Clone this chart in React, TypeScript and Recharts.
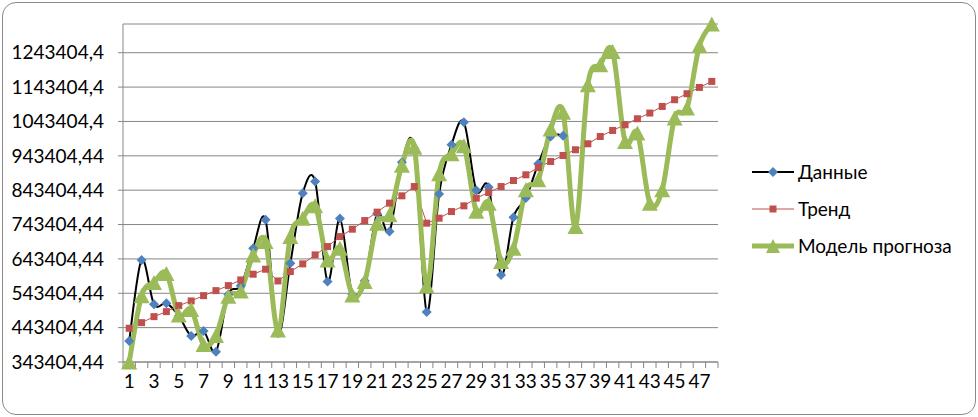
import { LineChart, Line, XAxis, YAxis, CartesianGrid } from "recharts";

document.body.style.margin = "0";

// периоды 1..48
const periods = [
  1, 2, 3, 4, 5, 6, 7, 8, 9, 10, 11, 12, 13, 14, 15, 16, 17, 18, 19, 20, 21, 22, 23, 24,
  25, 26, 27, 28, 29, 30, 31, 32, 33, 34, 35, 36, 37, 38, 39, 40, 41, 42, 43, 44, 45, 46, 47, 48,
];

// фактические данные (только 36 периодов)
const dannye = [
  404600, 640500, 511400, 514400, 478000, 419100, 433700, 373400, 540000, 565000, 674600, 757000,
  427000, 630900, 834800, 868600, 577300, 760800, 540000, 580000, 775000, 723000, 925000, 965000,
  489000, 832000, 975500, 1041000, 843000, 852000, 596800, 764900, 820300, 920200, 999700, 1001700,
  null, null, null, null, null, null, null, null, null, null, null, null,
];

const trend = [
  441600, 457900, 475400, 490000, 507400, 521100, 536500, 551100, 565700, 582300, 598900, 613400,
  579300, 606500, 628900, 655100, 679300, 708400, 729900, 755000, 779500, 805700, 827000, 854000,
  747400, 762000, 781200, 797800, 820300, 836600, 854000, 871500, 888100, 909400, 926900, 944400,
  961000, 978400, 999700, 1017200, 1033800, 1051300, 1067900, 1087100, 1106600, 1124100, 1142400, 1159900,
];

const model = [
  343404.44, 536000, 575000, 601000, 480300, 496000, 394000, 420500, 535000, 550000, 655100, 693800,
  436600, 708400, 762000, 798000, 640500, 674600, 538600, 577300, 747400, 771600, 915800, 968200,
  564800, 891000, 949300, 972600, 781800, 805700, 635600, 674600, 844400, 873600, 1021700, 1070200,
  737500, 1150300, 1208600, 1247300, 985100, 1009600, 805700, 844400, 1053300, 1082400, 1263900, 1327000,
];

const yTicks = [
  343404.44, 443404.44, 543404.44, 643404.44, 743404.44, 843404.44, 943404.44, 1043404.44, 1143404.44,
  1243404.44,
];
const yTickLabels = [
  "343404,44", "443404,44", "543404,44", "643404,44", "743404,44", "843404,44", "943404,44",
  "1043404,4", "1143404,4", "1243404,4",
];
const xLabelTicks = periods.filter((p) => p % 2 === 1);
const xBoundaryTicks = [...periods.map((p) => p - 0.5), periods[periods.length - 1] + 0.5];

const seriesNames = ["Данные", "Тренд", "Модель прогноза"];

const chartData = periods.map((period, i) => ({
  period,
  dannye: dannye[i],
  trend: trend[i],
  model: model[i],
}));

const GRID = "#868686";
const FONT = "Lato, 'Open Sans', sans-serif";

// сглаживание как в Excel (Catmull-Rom)
function excelSmooth(context: any) {
  let pts: [number, number][] = [];
  return {
    areaStart() {},
    areaEnd() {},
    lineStart() {
      pts = [];
    },
    point(x: number, y: number) {
      pts.push([+x, +y]);
    },
    lineEnd() {
      const n = pts.length;
      if (!n) return;
      context.moveTo(pts[0][0], pts[0][1]);
      for (let i = 0; i < n - 1; i++) {
        const p0 = pts[i - 1] || pts[i];
        const p1 = pts[i];
        const p2 = pts[i + 1];
        const p3 = pts[i + 2] || p2;
        context.bezierCurveTo(
          p1[0] + (p2[0] - p0[0]) / 6,
          p1[1] + (p2[1] - p0[1]) / 6,
          p2[0] - (p3[0] - p1[0]) / 6,
          p2[1] - (p3[1] - p1[1]) / 6,
          p2[0],
          p2[1]
        );
      }
    },
  };
}

const Diamond = ({ cx, cy }: any) =>
  cx == null || cy == null ? <g /> : (
    <path d={`M${cx},${cy - 5}L${cx + 5},${cy}L${cx},${cy + 5}L${cx - 5},${cy}Z`} fill="#4F81BD" />
  );

const Square = ({ cx, cy }: any) =>
  cx == null || cy == null ? <g /> : <rect x={cx - 3.5} y={cy - 3.5} width={7} height={7} fill="#C0504D" />;

const Triangle = ({ cx, cy }: any) =>
  cx == null || cy == null ? <g /> : (
    <path d={`M${cx},${cy - 7.5}L${cx + 8},${cy + 7.5}L${cx - 8},${cy + 7.5}Z`} fill="#9BBB59" />
  );

const NoTick = () => <g />;

function LegendIcon({ index }: { index: number }) {
  return (
    <svg width={44} height={20} style={{ display: "block" }}>
      {index === 0 && (
        <>
          <line x1={0} y1={10} x2={42} y2={10} stroke="#000" strokeWidth={2} />
          <path d="M21,5L26,10L21,15L16,10Z" fill="#4F81BD" />
        </>
      )}
      {index === 1 && (
        <>
          <line x1={0} y1={10} x2={42} y2={10} stroke="#C0504D" strokeWidth={1} />
          <rect x={17.5} y={6.5} width={7} height={7} fill="#C0504D" />
        </>
      )}
      {index === 2 && (
        <>
          <line x1={0} y1={10} x2={42} y2={10} stroke="#9BBB59" strokeWidth={5} />
          <path d="M21,3L28,17L14,17Z" fill="#9BBB59" />
        </>
      )}
    </svg>
  );
}

export default function App() {
  return (
    <div style={{ position: "relative", width: 978, height: 417, background: "#fff", fontFamily: FONT }}>
      <div
        style={{
          position: "absolute",
          left: 2,
          top: 2,
          width: 974,
          height: 413,
          boxSizing: "border-box",
          border: "1px solid #8a8a8a",
          borderRadius: 14,
        }}
      />
      <LineChart
        width={978}
        height={417}
        data={chartData}
        margin={{ top: 24, right: 260, bottom: 0, left: 0 }}
        style={{ position: "absolute", left: 0, top: 0 }}
      >
        <CartesianGrid vertical={false} stroke={GRID} />
        <XAxis
          dataKey="period"
          type="number"
          domain={[0.5, 48.5]}
          ticks={xBoundaryTicks}
          interval={0}
          height={1}
          stroke={GRID}
          tickSize={6}
          tick={NoTick}
        />
        <XAxis
          xAxisId="labels"
          dataKey="period"
          type="number"
          domain={[0.5, 48.5]}
          ticks={xLabelTicks}
          interval={0}
          height={54}
          axisLine={false}
          tickLine={false}
          tickSize={0}
          tickMargin={12}
          tick={{ fontSize: 19, fill: "#000", fontFamily: FONT }}
        />
        <YAxis
          type="number"
          domain={[343404.44, 1327000]}
          ticks={yTicks}
          interval={0}
          width={123}
          stroke={GRID}
          tickSize={5}
          tickMargin={14}
          tickFormatter={(v: number) => yTickLabels[yTicks.indexOf(v)] ?? ""}
          tick={{ fontSize: 19, fill: "#000", fontFamily: FONT }}
        />
        <Line
          dataKey="dannye"
          name={seriesNames[0]}
          type={excelSmooth as any}
          stroke="#000"
          strokeWidth={2}
          dot={Diamond}
          activeDot={false}
          isAnimationActive={false}
        />
        <Line
          dataKey="trend"
          name={seriesNames[1]}
          type="linear"
          stroke="#C0504D"
          strokeWidth={1}
          dot={Square}
          activeDot={false}
          isAnimationActive={false}
        />
        <Line
          dataKey="model"
          name={seriesNames[2]}
          type={excelSmooth as any}
          stroke="#9BBB59"
          strokeWidth={5}
          dot={Triangle}
          activeDot={false}
          isAnimationActive={false}
        />
      </LineChart>
      <div style={{ position: "absolute", left: 752, top: 153 }}>
        {seriesNames.map((name) => (
          <div key={name} style={{ display: "flex", alignItems: "center", height: 37 }}>
            <LegendIcon index={seriesNames.indexOf(name)} />
            <span style={{ fontSize: 19, color: "#000", marginLeft: 2, lineHeight: "20px", whiteSpace: "nowrap" }}>
              {name}
            </span>
          </div>
        ))}
      </div>
    </div>
  );
}
